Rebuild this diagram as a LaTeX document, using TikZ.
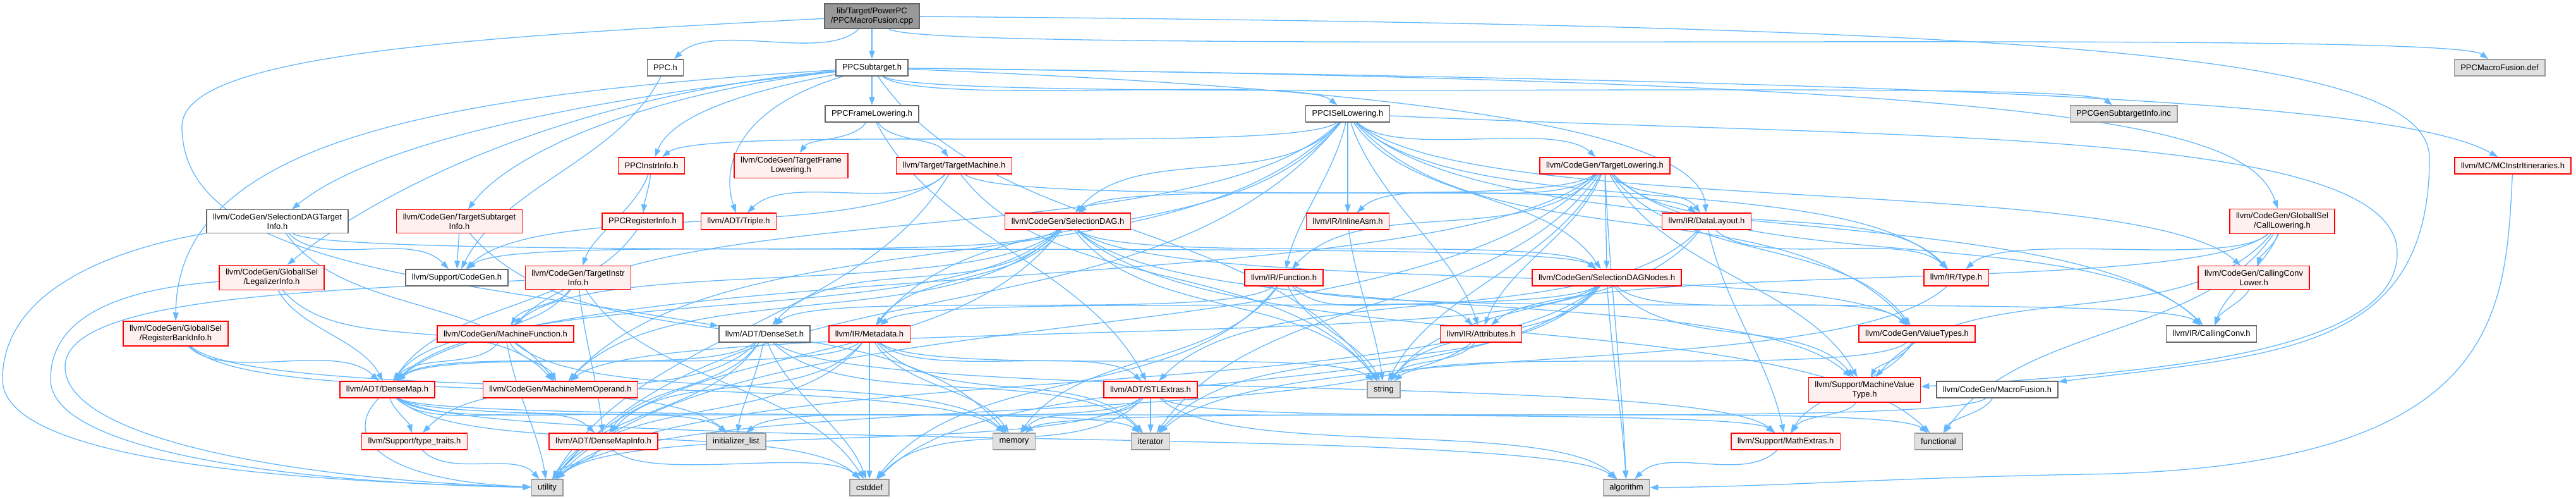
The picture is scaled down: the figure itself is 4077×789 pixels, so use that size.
\documentclass[tikz,border=0pt]{standalone}
\usepackage{fontspec}
\setmainfont{Liberation Sans}
\usetikzlibrary{arrows.meta,backgrounds}
\definecolor{edgeblue}{HTML}{63B8FF}
\definecolor{framegrey}{HTML}{666666}
\definecolor{sysframe}{HTML}{999999}
\definecolor{sysfill}{HTML}{E0E0E0}
\definecolor{rootfill}{HTML}{999999}
\definecolor{truncfill}{HTML}{FFF0F0}
% include edge: leaves a bit downwards, arrives a bit from above
\newcommand\depedge[2]{%
  \pgfpointdiff{\pgfpointanchor{#1}{center}}{\pgfpointanchor{#2}{center}}%
  \pgfgetlastxy{\edgedx}{\edgedy}%
  \pgfmathsetmacro\edgeraw{atan2(\edgedy/100,\edgedx/100)}%
  \pgfmathsetmacro\edgeang{\edgeraw>90 ? \edgeraw-360 : \edgeraw}%
  \pgfmathsetmacro\edgeout{\edgeang+0.4*(-90-\edgeang)}%
  \pgfmathsetmacro\edgein{\edgeang+180+0.4*(-90-\edgeang)}%
  \pgfmathsetmacro\edgelen{min(35*veclen(\edgedx/100,\edgedy/100), 80*abs(\edgedy/100)+40)}%
  \draw[dep] (#1) .. controls ([shift={(\edgeout:\edgelen pt)}]#1.center)
    and ([shift={(\edgein:\edgelen pt)}]#2.center) .. (#2);}

\begin{document}
\begin{tikzpicture}[x=1pt, y=-1pt,
  filebox/.style={rectangle, draw=framegrey, fill=white, line width=1.4pt, align=center,
    inner xsep=10pt, inner ysep=6pt, minimum height=26pt, font=\fontsize{13}{15}\selectfont},
  plainhdr/.style={filebox},
  redhdr/.style={filebox, draw=red, fill=truncfill},
  syshdr/.style={filebox, draw=sysframe, fill=sysfill},
  roothdr/.style={filebox, fill=rootfill},
  dep/.style={-{Triangle[length=13pt,width=9pt]}, draw=edgeblue, line width=1.3pt}
]
  \useasboundingbox (0,0) rectangle (4077,789);

  % rows of headers, top to bottom
  \node[roothdr] (root) at (1380,25.5) {lib/Target/PowerPC\\/PPCMacroFusion.cpp};

  \node[plainhdr] (ppc) at (1053,107) {PPC.h};
  \node[plainhdr] (sub) at (1380,107) {PPCSubtarget.h};
  \node[syshdr] (def) at (3956,107) {PPCMacroFusion.def};

  \node[plainhdr] (frame) at (1380,180) {PPCFrameLowering.h};
  \node[plainhdr] (isel) at (2133,180) {PPCISelLowering.h};
  \node[syshdr] (gensub) at (3361,180) {PPCGenSubtargetInfo.inc};

  \node[redhdr] (instr) at (1031,262) {PPCInstrInfo.h};
  \node[redhdr] (tfl) at (1252,262) {llvm/CodeGen/TargetFrame\\Lowering.h};
  \node[redhdr] (tm) at (1510,262) {llvm/Target/TargetMachine.h};
  \node[redhdr] (tl) at (2540,262) {llvm/CodeGen/TargetLowering.h};
  \node[redhdr] (mcii) at (3977,262) {llvm/MC/MCInstrItineraries.h};

  \node[plainhdr] (sdti) at (439,350) {llvm/CodeGen/SelectionDAGTarget\\Info.h};
  \node[redhdr] (tsi) at (727,350) {llvm/CodeGen/TargetSubtarget\\Info.h};
  \node[redhdr] (reginfo) at (1017,350) {PPCRegisterInfo.h};
  \node[redhdr] (triple) at (1169,350) {llvm/ADT/Triple.h};
  \node[redhdr] (sdag) at (1690,350) {llvm/CodeGen/SelectionDAG.h};
  \node[redhdr] (asm) at (2133,350) {llvm/IR/InlineAsm.h};
  \node[redhdr] (dl) at (2701,350) {llvm/IR/DataLayout.h};
  \node[redhdr] (call) at (3612,350) {llvm/CodeGen/GlobalISel\\/CallLowering.h};

  \node[redhdr] (legal) at (430,439) {llvm/CodeGen/GlobalISel\\/LegalizerInfo.h};
  \node[plainhdr] (cg) at (723,439) {llvm/Support/CodeGen.h};
  \node[redhdr] (tii) at (915,439) {llvm/CodeGen/TargetInstr\\Info.h};
  \node[redhdr] (func) at (2032,439) {llvm/IR/Function.h};
  \node[redhdr] (sdn) at (2543,439) {llvm/CodeGen/SelectionDAGNodes.h};
  \node[redhdr] (type) at (3096,439) {llvm/IR/Type.h};
  \node[redhdr] (cclower) at (3567,439) {llvm/CodeGen/CallingConv\\Lower.h};

  \node[redhdr] (rbi) at (278,527.5) {llvm/CodeGen/GlobalISel\\/RegisterBankInfo.h};
  \node[redhdr] (mf) at (800,528) {llvm/CodeGen/MachineFunction.h};
  \node[plainhdr] (dset) at (1210,528) {llvm/ADT/DenseSet.h};
  \node[redhdr] (meta) at (1376,528) {llvm/IR/Metadata.h};
  \node[redhdr] (attr) at (2344,528) {llvm/IR/Attributes.h};
  \node[redhdr] (vt) at (3034,528) {llvm/CodeGen/ValueTypes.h};
  \node[plainhdr] (cconv) at (3500,528) {llvm/IR/CallingConv.h};

  \node[redhdr] (dmap) at (613,616) {llvm/ADT/DenseMap.h};
  \node[redhdr] (mmo) at (887,616) {llvm/CodeGen/MachineMemOperand.h};
  \node[redhdr] (stl) at (1821,616) {llvm/ADT/STLExtras.h};
  \node[syshdr] (string) at (2190,616) {string};
  \node[redhdr] (mvt) at (2951,616.5) {llvm/Support/MachineValue\\Type.h};
  \node[plainhdr] (mfus) at (3161,616) {llvm/CodeGen/MacroFusion.h};

  \node[redhdr] (ttraits) at (656,698) {llvm/Support/type\_traits.h};
  \node[redhdr] (dmi) at (955,698) {llvm/ADT/DenseMapInfo.h};
  \node[syshdr] (ilist) at (1165,698) {initializer\_list};
  \node[syshdr] (memory) at (1605,698) {memory};
  \node[syshdr] (iter) at (1821,698) {iterator};
  \node[redhdr] (math) at (2826,698) {llvm/Support/MathExtras.h};
  \node[syshdr] (functional) at (3068,698) {functional};

  \node[syshdr] (utility) at (866,771) {utility};
  \node[syshdr] (cstddef) at (1376,771) {cstddef};
  \node[syshdr] (algorithm) at (2574,771) {algorithm};

  \begin{scope}[on background layer]
  % include edges
  \draw[dep] (root) -- (sub);
  \foreach \dst in {ppc,def} {\depedge{root}{\dst}}
  \draw[dep] (root) .. controls (700,60) and (288,90) .. (288,200) .. controls (288,420) and (700,440) .. (dset);
  \draw[dep] (root) .. controls (3200,40) and (3845,80) .. (3845,250) .. controls (3845,560) and (3600,560) .. (mfus);

  \depedge{ppc}{cg}

  \draw[dep] (sub) -- (frame);
  \foreach \dst in {isel,string,gensub} {\depedge{sub}{\dst}}
  \draw[dep] (sub) .. controls (1150,150) and (1060,190) .. (instr);
  \draw[dep] (sub) .. controls (1170,170) and (1140,260) .. (triple);
  \draw[dep] (sub) .. controls (1000,150) and (800,250) .. (tsi);
  \draw[dep] (sub) .. controls (800,170) and (560,250) .. (sdti);
  \draw[dep] (sub) .. controls (900,150) and (600,300) .. (legal);
  \draw[dep] (sub) .. controls (700,150) and (280,220) .. (rbi);
  \draw[dep] (sub) .. controls (2200,140) and (2690,200) .. (dl);
  \draw[dep] (sub) .. controls (3100,130) and (3800,160) .. (mcii);
  \draw[dep] (sub) .. controls (3300,130) and (3560,200) .. (call);

  \foreach \dst in {tfl,tm,stl} {\depedge{frame}{\dst}}

  \foreach \dst in {instr,cclower,mf,mmo,sdag,sdn,tl,vt,attr,cconv,func,meta,type,utility}
    {\depedge{isel}{\dst}}
  \draw[dep] (isel) -- (asm);
  \draw[dep] (isel) .. controls (3000,220) and (3794,200) .. (3794,400) .. controls (3794,560) and (3400,590) .. (mvt);

  \foreach \dst in {triple,dl,cg,string,utility} {\depedge{tm}{\dst}}
  \foreach \dst in {reginfo,tii} {\depedge{instr}{\dst}}

  \foreach \dst in {mmo,sdn,cg} {\depedge{sdti}{\dst}}
  \draw[dep] (sdti) .. controls (200,390) and (4,450) .. (4,600) .. controls (4,720) and (400,760) .. (utility);

  \foreach \dst in {cg,memory} {\depedge{tsi}{\dst}}

  \foreach \dst in {dmap,mmo} {\depedge{legal}{\dst}}
  \draw[dep] (legal) .. controls (150,460) and (80,520) .. (80,600) .. controls (80,720) and (500,765) .. (utility);

  \foreach \dst in {dmap,ilist,memory} {\depedge{rbi}{\dst}}

  \foreach \dst in {dmap,dset,mf,mmo,sdn,vt,meta,cg,mvt,functional,string,utility}
    {\depedge{sdag}{\dst}}

  \depedge{reginfo}{dmap}
  \depedge{asm}{string}
  \foreach \dst in {stl,type,math,string} {\depedge{dl}{\dst}}

  \foreach \dst in {dmap,sdag,sdn,vt,attr,cconv,dl,func,asm,type,mvt,algorithm,iter,string,utility}
    {\depedge{tl}{\dst}}

  \foreach \dst in {cclower,attr,cconv,type,mvt,functional} {\depedge{call}{\dst}}
  \draw[dep] (mcii) .. controls (3965,500) and (3960,740) .. (3300,750) .. controls (3000,755) and (2800,770) .. (algorithm);

  \foreach \dst in {mmo,vt,meta,mvt,algorithm,cstddef,iter,string,utility} {\depedge{sdn}{\dst}}
  \foreach \dst in {dset,attr,cconv,cstddef,memory,string} {\depedge{func}{\dst}}
  \depedge{type}{iter}
  \depedge{cclower}{cconv}

  \foreach \dst in {dmap,mmo,memory,utility} {\depedge{mf}{\dst}}
  \foreach \dst in {dmap,dmi,math,ttraits,cstddef,ilist,iter,utility} {\depedge{dset}{\dst}}
  \foreach \dst in {dmap,dmi,stl,cstddef,iter,memory,string,utility} {\depedge{meta}{\dst}}
  \foreach \dst in {string,utility} {\depedge{attr}{\dst}}
  \foreach \dst in {mvt,math,string} {\depedge{vt}{\dst}}

  \foreach \dst in {dmi,math,ttraits,algorithm,cstddef,ilist,iter} {\depedge{dmap}{\dst}}
  \draw[dep] (dmap) .. controls (540,690) and (600,760) .. (utility);
  \foreach \dst in {algorithm,cstddef,functional,ilist,memory,utility} {\depedge{stl}{\dst}}
  \draw[dep] (stl) -- (iter);
  \depedge{mvt}{math}
  \foreach \dst in {functional,memory} {\depedge{mfus}{\dst}}
  \depedge{ttraits}{utility}
  \foreach \dst in {cstddef,utility} {\depedge{dmi}{\dst}}
  \depedge{math}{algorithm}

  \foreach \dst in {dmap,dmi,mf,cstddef} {\depedge{tii}{\dst}}
  \draw[dep] (tii) .. controls (500,460) and (103,470) .. (103,580) .. controls (103,700) and (500,760) .. (utility);
  \end{scope}
\end{tikzpicture}
\end{document}
